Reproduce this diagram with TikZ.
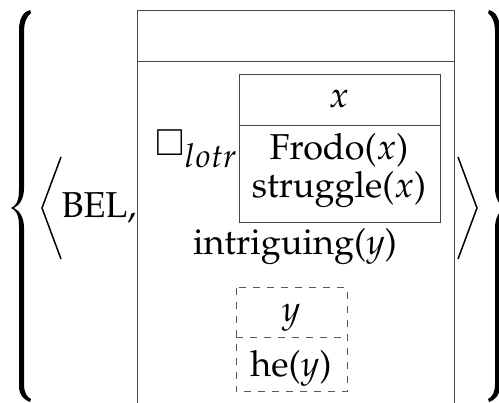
\documentclass[tikz,border=0pt]{standalone}
\usepackage[T1]{fontenc}
\usepackage{mathpazo}
\usepackage{amssymb}
\newcommand{\subsz}[1]{\hbox{\fontsize{33}{35}\selectfont$#1$}}
\begin{document}
\begin{tikzpicture}[x=1pt,y=-1pt,
  boxline/.style={draw=black!72,line width=1pt},
  dashline/.style={draw=black!65,line width=1pt,dash pattern=on 7pt off 7pt},
  anglebr/.style={draw=black,line width=1.5pt,line join=miter},
  txt/.style={anchor=base,inner sep=0pt,font=\fontsize{36}{43}\selectfont},
  bracefill/.style={fill=black}]
\useasboundingbox (0,0) rectangle (499,403);
\clip (0,0) rectangle (499,403);
% left brace
\fill[bracefill] (30,10) .. controls (24,11) and (19,18) .. (19,30) -- (19,190)
  .. controls (19,201) and (16,206) .. (11,208) .. controls (16,210) and (19,215) .. (19,226)
  -- (19,386) .. controls (19,395) and (24,400) .. (30,402) -- (31,399)
  .. controls (27,397) and (24,393) .. (24,384) -- (24,228)
  .. controls (24,218) and (20,211) .. (14,208) .. controls (20,205) and (24,198) .. (24,188)
  -- (24,32) .. controls (24,22) and (27,16) .. (31,13) -- cycle;
% right brace (mirror)
\begin{scope}[xshift=519pt,xscale=-1]
\fill[bracefill] (30,10) .. controls (24,11) and (19,18) .. (19,30) -- (19,190)
  .. controls (19,201) and (16,206) .. (11,208) .. controls (16,210) and (19,215) .. (19,226)
  -- (19,386) .. controls (19,395) and (24,400) .. (30,402) -- (31,399)
  .. controls (27,397) and (24,393) .. (24,384) -- (24,228)
  .. controls (24,218) and (20,211) .. (14,208) .. controls (20,205) and (24,198) .. (24,188)
  -- (24,32) .. controls (24,22) and (27,16) .. (31,13) -- cycle;
\end{scope}
% angle brackets
\coordinate (la1) at (61,157); \coordinate (la2) at (42,208); \coordinate (la3) at (61,259);
\draw[anglebr] (la1) -- (la2) -- (la3);
\coordinate (ra1) at (458,157); \coordinate (ra2) at (477,208); \coordinate (ra3) at (458,259);
\draw[anglebr] (ra1) -- (ra2) -- (ra3);
% BEL
\node[txt] (bel) at (99,218) {BEL,};
% outer box
\draw[boxline] (137,420) -- (137,11) -- (454,11) -- (454,420);
\draw[boxline] (137,62) -- (454,62);
% box operator
\node[txt,anchor=base west] (box) at (155,156) {$\Box_{\subsz{lotr}}$};
% inner box
\draw[boxline] (239,75) rectangle (440,223);
\draw[boxline] (239,126) -- (440,126);
\node[txt] (x) at (339,108) {$x$};
\node[txt] (frodo) at (339,160) {Frodo($x$)};
\node[txt] (strug) at (339,198) {struggle($x$)};
% intriguing
\node[txt] (intr) at (295,255) {intriguing($y$)};
% dashed box
\draw[dashline] (236,288) rectangle (347,392);
\draw[dashline] (236,338) -- (347,338);
\node[txt] (y) at (291,322) {$y$};
\node[txt] (he) at (291,377) {he($y$)};
\end{tikzpicture}
\end{document}
